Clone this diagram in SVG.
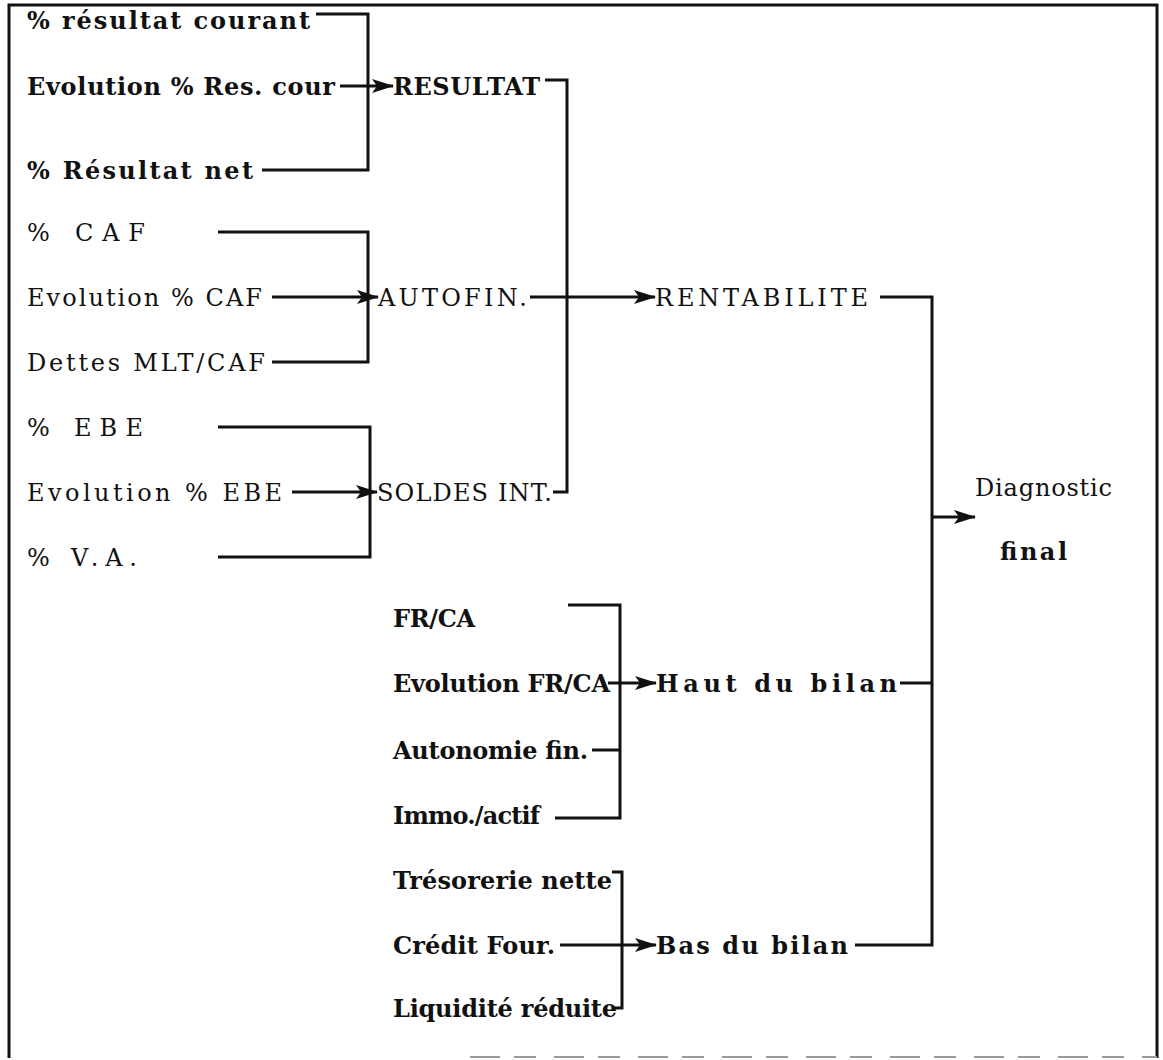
<svg xmlns="http://www.w3.org/2000/svg" width="1163" height="1060" viewBox="0 0 1163 1060">
  <style>
    text { font-family: "DejaVu Serif", "Liberation Serif", serif; font-size: 24px; fill: #111; }
    .b { font-weight: bold; }
    .w { stroke: #111; stroke-width: 3; fill: none; }
    .frame { stroke: #111; stroke-width: 3; fill: none; }
    .faint { stroke: #999; stroke-width: 2; fill: none; stroke-dasharray: 30 14 22 18; }
  </style>
  <defs>
    <marker id="arr" markerUnits="userSpaceOnUse" markerWidth="22" markerHeight="16" refX="21" refY="8" orient="auto">
      <path d="M0,1 L22,8 L0,15 L5,8 z" fill="#111"/>
    </marker>
  </defs>

  <rect x="0" y="0" width="1163" height="1060" fill="#fff"/>
  <!-- page frame: the lower edge is only faintly printed -->
  <path class="frame" d="M9,1058 V5 H1157 V1058"/>
  <path class="faint" d="M470,1057 H1157"/>

  <!-- indicator inputs, upper part -->
  <g id="n-res-courant"><text class="b" x="27" y="29" textLength="283">% résultat courant</text></g>
  <g id="n-evo-res"><text class="b" x="27" y="95" textLength="308">Evolution % Res. cour</text></g>
  <g id="n-res-net"><text class="b" x="27" y="179" textLength="226">% Résultat net</text></g>
  <g id="n-caf"><text x="27" y="241" textLength="118">% CAF</text></g>
  <g id="n-evo-caf"><text x="27" y="306" textLength="235">Evolution % CAF</text></g>
  <g id="n-dettes"><text x="27" y="371" textLength="238">Dettes MLT/CAF</text></g>
  <g id="n-ebe"><text x="27" y="436" textLength="116">% EBE</text></g>
  <g id="n-evo-ebe"><text x="27" y="501" textLength="255">Evolution % EBE</text></g>
  <g id="n-va"><text x="27" y="566" textLength="110">% V.A.</text></g>

  <!-- intermediate aggregates -->
  <g id="n-resultat"><text class="b" x="393" y="95" textLength="147">RESULTAT</text></g>
  <g id="n-autofin"><text x="378" y="306" textLength="149">AUTOFIN.</text></g>
  <g id="n-soldes"><text x="377" y="501" textLength="175">SOLDES INT.</text></g>
  <g id="n-rentabilite"><text x="655" y="306" textLength="213">RENTABILITE</text></g>

  <!-- final diagnosis -->
  <g id="n-diagnostic">
    <text x="975" y="496" textLength="137">Diagnostic</text>
    <text class="b" x="1000" y="560" textLength="67">final</text>
  </g>

  <!-- balance sheet indicators -->
  <g id="n-frca"><text class="b" x="393" y="627" textLength="82">FR/CA</text></g>
  <g id="n-evo-frca"><text class="b" x="393" y="692" textLength="217">Evolution FR/CA</text></g>
  <g id="n-autonomie"><text class="b" x="393" y="759" textLength="195">Autonomie fin.</text></g>
  <g id="n-immo"><text class="b" x="393" y="824" textLength="147">Immo./actif</text></g>
  <g id="n-tresorerie"><text class="b" x="393" y="889" textLength="219">Trésorerie nette</text></g>
  <g id="n-credit"><text class="b" x="393" y="954" textLength="162">Crédit Four.</text></g>
  <g id="n-liquidite"><text class="b" x="393" y="1017" textLength="224">Liquidité réduite</text></g>
  <g id="n-haut"><text class="b" x="656" y="692" textLength="241">Haut du bilan</text></g>
  <g id="n-bas"><text class="b" x="656" y="954" textLength="192">Bas du bilan</text></g>

  <g id="connectors">
    <!-- RESULTAT group -->
    <path class="w" d="M316,14 H368 V170 H262"/>
    <path class="w" d="M340,86 H393" marker-end="url(#arr)"/>
    <!-- AUTOFIN. group -->
    <path class="w" d="M218,232 H368 V362 H272"/>
    <path class="w" d="M272,297 H378" marker-end="url(#arr)"/>
    <!-- SOLDES INT. group -->
    <path class="w" d="M218,427 H370 V557 H218"/>
    <path class="w" d="M292,492 H377" marker-end="url(#arr)"/>
    <!-- RENTABILITE group -->
    <path class="w" d="M545,80 H567 V492 H553"/>
    <path class="w" d="M530,297 H655" marker-end="url(#arr)"/>
    <!-- Haut du bilan group -->
    <path class="w" d="M568,605 H620 V818 H555"/>
    <path class="w" d="M592,750 H620"/>
    <path class="w" d="M608,683 H656" marker-end="url(#arr)"/>
    <!-- Bas du bilan group -->
    <path class="w" d="M612,872 H622 V1008 H614"/>
    <path class="w" d="M560,945 H656" marker-end="url(#arr)"/>
    <!-- final diagnosis -->
    <path class="w" d="M880,297 H932 V945 H855"/>
    <path class="w" d="M900,683 H932"/>
    <path class="w" d="M932,517 H975" marker-end="url(#arr)"/>
  </g>
</svg>
